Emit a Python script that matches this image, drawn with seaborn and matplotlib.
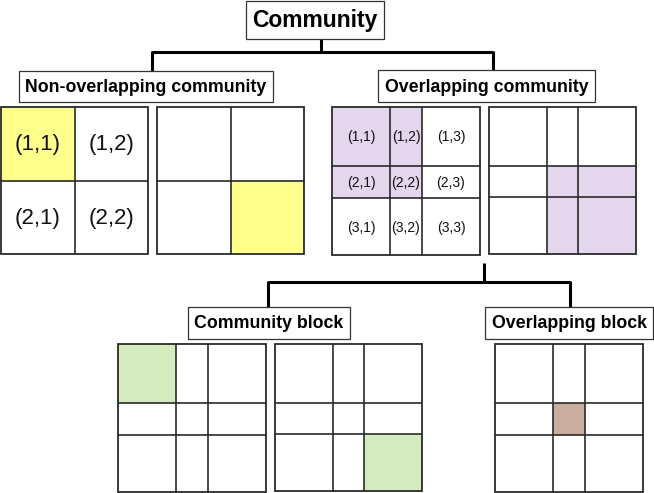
import numpy as np
import matplotlib
matplotlib.use('Agg')
import matplotlib.pyplot as plt
import seaborn as sns
from matplotlib.patches import Rectangle

sns.set_theme(style='white')
plt.rcParams['font.family'] = ['Liberation Sans', 'DejaVu Sans']

# =========================
#  DATA
# =========================

root_title = 'Community'
level1_titles = ['Non-overlapping community', 'Overlapping community']
level2_titles = ['Community block', 'Overlapping block']

labels_2x2 = [['(1,1)', '(1,2)'],
              ['(2,1)', '(2,2)']]
labels_3x3 = [['(1,1)', '(1,2)', '(1,3)'],
              ['(2,1)', '(2,2)', '(2,3)'],
              ['(3,1)', '(3,2)', '(3,3)']]

nonoverlap_masks = [[[1, 0], [0, 0]],
                    [[0, 0], [0, 1]]]
overlap_masks = [[[1, 1, 0], [1, 1, 0], [0, 0, 0]],
                 [[0, 0, 0], [0, 1, 1], [0, 1, 1]]]
block_masks = [[[1, 0, 0], [0, 0, 0], [0, 0, 0]],
               [[0, 0, 0], [0, 0, 0], [0, 0, 1]]]
overlap_block_mask = [[0, 0, 0], [0, 1, 0], [0, 0, 0]]

# =========================
#  LAYOUT / STYLE
# =========================

YELLOW = '#ffff8c'
PURPLE = '#e4d6ec'
GREEN = '#d4ebc0'
BROWN = '#c9ae9f'
EDGE = '#2a2a2a'

EDGES_2 = [0, 0.5, 1]
COL_EDGES_3 = [0, 0.392, 0.608, 1]
ROW_EDGES_3 = [0, 0.398, 0.615, 1]


def draw_matrix(ax, left, top, size, mask, color, col_edges, row_edges,
                labels=None, fontsize=10):
    mask = np.array(mask)
    xs = [left + f * size for f in col_edges]
    ys = [top + f * size for f in row_edges]
    for i in range(mask.shape[0]):
        for j in range(mask.shape[1]):
            if mask[i, j]:
                ax.add_patch(Rectangle((xs[j], ys[i]), xs[j + 1] - xs[j],
                                       ys[i + 1] - ys[i], facecolor=color,
                                       edgecolor='none', zorder=1))
            if labels is not None:
                ax.text((xs[j] + xs[j + 1]) / 2, (ys[i] + ys[i + 1]) / 2 + 1,
                        labels[i][j], ha='center', va='center',
                        fontsize=fontsize, color='#111111', zorder=3)
    for x in xs[1:-1]:
        ax.plot([x, x], [ys[0], ys[-1]], color=EDGE, lw=1.2, zorder=2)
    for y in ys[1:-1]:
        ax.plot([xs[0], xs[-1]], [y, y], color=EDGE, lw=1.2, zorder=2)
    ax.add_patch(Rectangle((xs[0], ys[0]), size, size, facecolor='none',
                           edgecolor=EDGE, lw=1.3, zorder=2))


def draw_box(ax, x0, x1, y0, y1, text, fontsize):
    ax.add_patch(Rectangle((x0, y0), x1 - x0, y1 - y0, facecolor='white',
                           edgecolor='#333333', lw=0.9, zorder=2))
    ax.text((x0 + x1) / 2, (y0 + y1) / 2 + 1, text, ha='center', va='center',
            fontsize=fontsize, fontweight='bold', color='black', zorder=3)


def draw_connector(ax, x_top, y_top, y_bar, x_left, x_right, y_left, y_right):
    kw = dict(color='black', lw=2.2, solid_capstyle='butt', zorder=1)
    ax.plot([x_top, x_top], [y_top, y_bar], **kw)
    ax.plot([x_left, x_right], [y_bar, y_bar], solid_joinstyle='miter',
            **{k: v for k, v in kw.items()})
    ax.plot([x_left, x_left], [y_bar - 1, y_left], **kw)
    ax.plot([x_right, x_right], [y_bar - 1, y_right], **kw)


# =========================
#  PLOT
# =========================

def main():
    fig = plt.figure(figsize=(6.54, 4.93), dpi=100)
    ax = fig.add_axes([0, 0, 1, 1])
    ax.set_xlim(0, 654)
    ax.set_ylim(493, 0)
    ax.axis('off')

    # tree connectors
    draw_connector(ax, 321, 39, 52, 152, 493, 71, 70)
    draw_connector(ax, 484, 263, 282, 268, 570, 307, 307)

    # title boxes
    draw_box(ax, 246, 384, 1, 39, root_title, 16.5)
    draw_box(ax, 19, 273, 71, 102, level1_titles[0], 12.8)
    draw_box(ax, 378, 595, 70, 102, level1_titles[1], 12.8)
    draw_box(ax, 188, 350, 307, 339, level2_titles[0], 12.8)
    draw_box(ax, 485, 653, 307, 339, level2_titles[1], 12.8)

    # non-overlapping community
    draw_matrix(ax, 1, 107, 147, nonoverlap_masks[0], YELLOW, EDGES_2, EDGES_2,
                labels=labels_2x2, fontsize=16)
    draw_matrix(ax, 157, 107, 147, nonoverlap_masks[1], YELLOW, EDGES_2, EDGES_2)

    # overlapping community
    draw_matrix(ax, 332, 107, 148, overlap_masks[0], PURPLE, COL_EDGES_3,
                ROW_EDGES_3, labels=labels_3x3, fontsize=10)
    draw_matrix(ax, 489, 107, 147, overlap_masks[1], PURPLE, COL_EDGES_3,
                ROW_EDGES_3)

    # community blocks
    draw_matrix(ax, 118, 344, 148, block_masks[0], GREEN, COL_EDGES_3, ROW_EDGES_3)
    draw_matrix(ax, 275, 344, 147, block_masks[1], GREEN, COL_EDGES_3, ROW_EDGES_3)

    # overlapping block
    draw_matrix(ax, 495, 344, 148, overlap_block_mask, BROWN, COL_EDGES_3,
                ROW_EDGES_3)

    fig.savefig('out.png', dpi=100)
    plt.close(fig)


if __name__ == '__main__':
    main()
